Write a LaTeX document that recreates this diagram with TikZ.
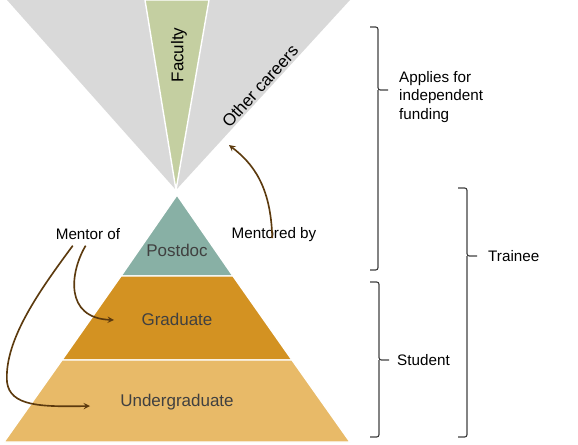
\documentclass[tikz,border=0pt]{standalone}
\usepackage{fontspec}
\setmainfont{Liberation Sans}
\usepackage{xcolor}
\usetikzlibrary{positioning}
\definecolor{funnelgray}{HTML}{D9D9D9}
\definecolor{facultygreen}{HTML}{C4CFA1}
\definecolor{postdocteal}{HTML}{88B0A5}
\definecolor{gradorange}{HTML}{D39222}
\definecolor{undergradtan}{HTML}{E8BA68}
\definecolor{arrowbrown}{HTML}{5C3A0E}
\definecolor{textgray}{HTML}{404040}

\begin{document}
\begin{tikzpicture}[x=0.03cm, y=-0.03cm,
    tier/.style={draw=white, line width=1.2pt},
    tierlabel/.style={font=\fontsize{14.5}{17}\selectfont, text=textgray, inner sep=0pt},
    careerlabel/.style={font=\fontsize{14.5}{17}\selectfont, inner sep=0pt},
    note/.style={font=\fontsize{13}{15.7}\selectfont, align=left, inner sep=0pt},
    mentorline/.style={->, >=stealth, draw=arrowbrown, line width=1.4pt},
    bracket/.style={draw=textgray, line width=1pt, rounded corners=2pt}
    ]
    \useasboundingbox (0,0) rectangle (578,445);

    % funnel of careers
    \fill[funnelgray] (7,0) -- (350,0) -- (176,190) -- cycle;
    \filldraw[facultygreen, tier] (145,0) -- (209,0) -- (176,190) -- cycle;
    \node[careerlabel, rotate=90] (faculty) at (179,55) {Faculty};
    \node[careerlabel, rotate=47.8] (other) at (260,86) {Other careers};

    % pyramid
    \filldraw[postdocteal, tier] (177,195) -- (233,276) -- (121,276) -- cycle;
    \filldraw[gradorange, tier] (121,276) -- (233,276) -- (292,360) -- (62,360) -- cycle;
    \filldraw[undergradtan, tier] (62,360) -- (292,360) -- (350,442) -- (4,442) -- cycle;
    \node[tierlabel] (postdoc) at (177,250) {Postdoc};
    \node[tierlabel] (graduate) at (177,319) {Graduate};
    \node[tierlabel] (undergrad) at (177,402) {Undergraduate};

    % mentoring
    \node[note] (mentor) at (88,234) {Mentor of};
    \node[note] (mentored) at (274,235) {Mentored by};
    \coordinate (othertip) at (229,145);
    \coordinate (gradin) at (114,320);
    \coordinate (undergradin) at (90,406);

    \draw[mentorline] ([xshift=-1.5pt, yshift=-9pt]mentored.north)
        .. controls (271,185) and (252,163) .. (othertip);
    \draw[mentorline] ([xshift=-2pt, yshift=-5pt]mentor.south)
        .. controls (70,272) and (64,318) .. (gradin);
    \draw[mentorline] ([xshift=-13pt, yshift=-5pt]mentor.south)
        .. controls (40,290) and (4,340) .. (7,382)
        .. controls (10,406) and (40,407) .. (undergradin);

    % brackets
    \draw[bracket] (370,27) -- (378,27) -- (378,90) -- (388,90);
    \draw[bracket] (378,90) -- (378,270) -- (370,270);
    \draw[bracket] (370,282) -- (379,282) -- (379,360) -- (389,360);
    \draw[bracket] (379,360) -- (379,437) -- (370,437);
    \draw[bracket] (458,188) -- (467,188) -- (467,256) -- (477,256);
    \draw[bracket] (467,256) -- (467,437) -- (458,437);

    \node[note, anchor=west] (applies) at (399,97) {Applies for\\independent\\funding};
    \node[note, anchor=west] (student) at (397,360) {Student};
    \node[note, anchor=west] (trainee) at (488,256) {Trainee};
\end{tikzpicture}
\end{document}
